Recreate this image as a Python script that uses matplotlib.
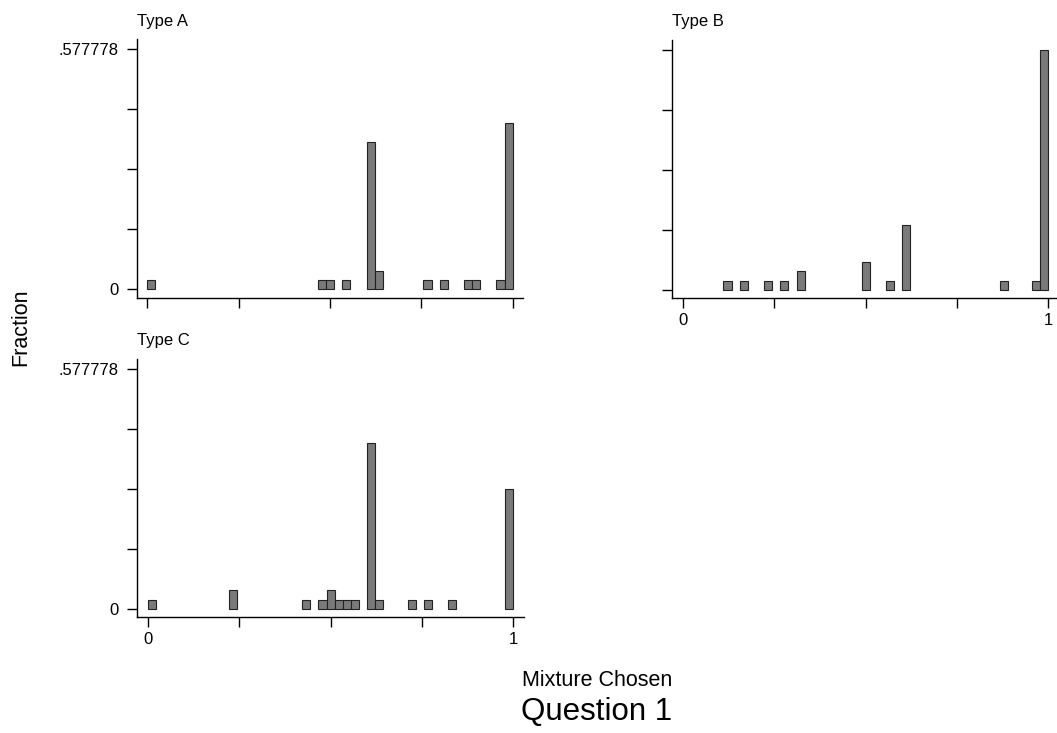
# Stata-style histogram: fraction of mixture chosen, by type (Question 1)

import numpy as np
import matplotlib
matplotlib.use("Agg")
import matplotlib.pyplot as plt

plt.rcParams['font.family'] = ['Liberation Sans', 'DejaVu Sans']

n_bins = 45
n_obs = 45
y_max = 26 / 45   # .577778

# bin index (0..44, width 1/45) and count per bin
type_a_bins = [0, 21, 22, 24, 27, 28, 34, 36, 39, 40, 43, 44]
type_a_counts = [1, 1, 1, 1, 16, 2, 1, 1, 1, 1, 1, 18]

type_b_bins = [5, 7, 10, 12, 14, 22, 25, 27, 39, 43, 44]
type_b_counts = [1, 1, 1, 1, 2, 3, 1, 7, 1, 1, 26]

type_c_bins = [0, 10, 19, 21, 22, 23, 24, 25, 27, 28, 32, 34, 37, 44]
type_c_counts = [1, 2, 1, 1, 2, 1, 1, 1, 18, 1, 1, 1, 1, 13]

x_ticks = [0, 0.25, 0.5, 0.75, 1]
x_labels = ["0", "", "", "", "1"]
y_ticks = np.linspace(0, y_max, 5)
y_labels = ["0", "", "", "", ".577778"]

W, H = 1057, 733
fig = plt.figure(figsize=(W / 100, H / 100), dpi=100)


def px_axes(left, top, width, height):
    return fig.add_axes([left / W, (H - top - height) / H, width / W, height / H])


def panel(ax, bins, counts, title, xlab, ylab):
    left = np.array(bins) / n_bins
    frac = np.array(counts) / n_obs
    ax.bar(left, frac, width=1 / n_bins, align='edge', color='#7a7a7a',
           edgecolor='#222222', linewidth=0.8)
    ax.set_xlim(-0.029, 1.029)
    ax.set_ylim(-0.0202, 0.6018)
    for s in ['top', 'right']:
        ax.spines[s].set_visible(False)
    for s in ['left', 'bottom']:
        ax.spines[s].set_linewidth(1.0)
    ax.set_xticks(x_ticks)
    ax.set_xticklabels(x_labels if xlab else [""] * 5)
    ax.set_yticks(y_ticks)
    ax.set_yticklabels(y_labels if ylab else [""] * 5)
    ax.tick_params(axis='x', length=7.5, width=1, pad=3, labelsize=12)
    ax.tick_params(axis='y', length=7.2, width=1, pad=6, labelsize=12)
    ax.text(0, 1.07, title, transform=ax.transAxes, fontsize=12,
            ha='left', va='center')


ax_a = px_axes(136.7, 39.3, 386.6, 258.4)
panel(ax_a, type_a_bins, type_a_counts, "Type A", False, True)

ax_b = px_axes(672.3, 39.9, 386.6, 258.4)
panel(ax_b, type_b_bins, type_b_counts, "Type B", True, False)

ax_c = px_axes(137.3, 358.9, 386.6, 258.4)
panel(ax_c, type_c_bins, type_c_counts, "Type C", True, True)

fig.text(21 / W, 1 - 327 / H, "Fraction", rotation=90, fontsize=15.5,
         ha='center', va='center')
fig.text(597 / W, 1 - 681 / H, "Mixture Chosen", fontsize=15.5,
         ha='center', va='center')
fig.text(597 / W, 1 - 712 / H, "Question 1", fontsize=22.5,
         ha='center', va='center')

fig.savefig("out.png", dpi=100)
